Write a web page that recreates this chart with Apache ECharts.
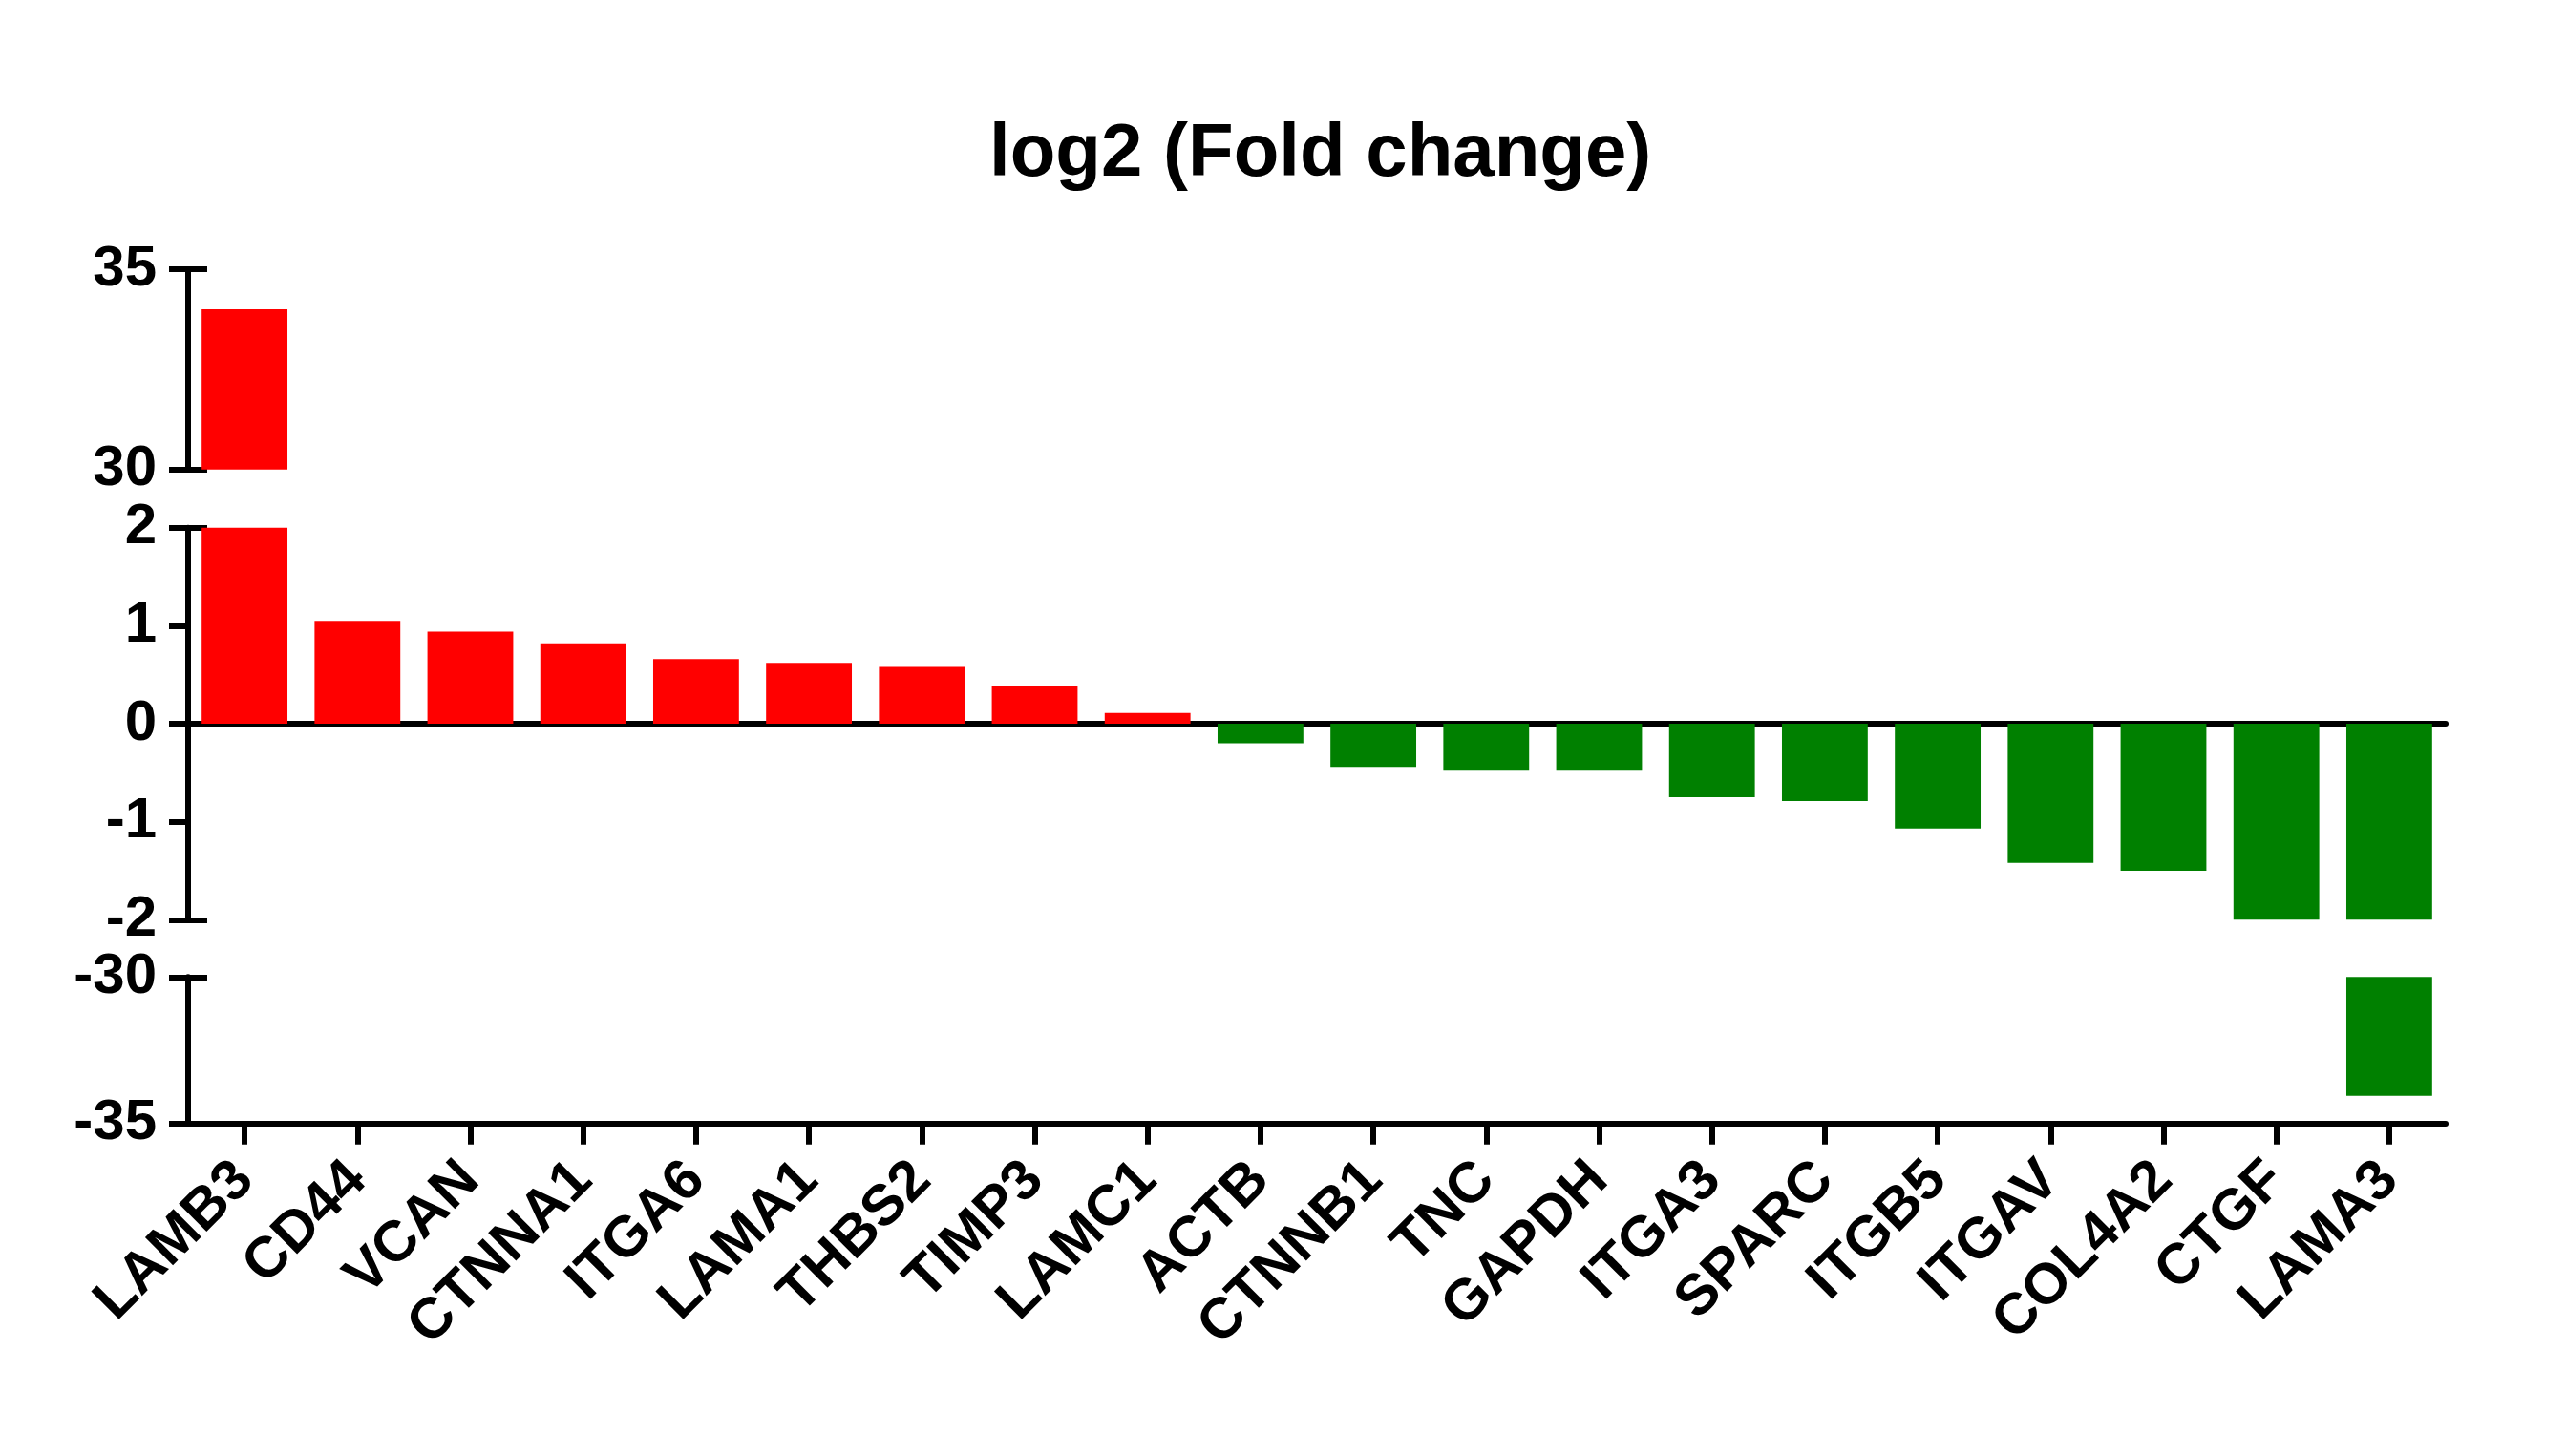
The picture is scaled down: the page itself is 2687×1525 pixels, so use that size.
<!DOCTYPE html>
<html>
<head>
<meta charset="utf-8">
<title>log2 (Fold change)</title>
<script src="https://cdn.jsdelivr.net/npm/echarts@6/dist/echarts.min.js"></script>
<style>
	body{margin:0;background:#fff;}
	#main{width:2687px;height:1525px;}
</style>
</head>
<body>
<div id="main"></div>
<script>
// genes and their log2 fold change
var genes = ['LAMB3','CD44','VCAN','CTNNA1','ITGA6','LAMA1','THBS2','TIMP3','LAMC1','ACTB',
	'CTNNB1','TNC','GAPDH','ITGA3','SPARC','ITGB5','ITGAV','COL4A2','CTGF','LAMA3'];
var foldChange = [34.0, 1.05, 0.94, 0.82, 0.66, 0.62, 0.58, 0.39, 0.11, -0.20,
	-0.44, -0.48, -0.48, -0.75, -0.79, -1.07, -1.42, -1.50, -2.0, -34.06];

// the three pieces of the broken y axis: [min, max, step]
var rangeTop = [30, 35, 5];
var rangeMid = [-2, 2, 1];
var rangeBottom = [-35, -30, 5];

var FONT = '"Liberation Sans", Arial, sans-serif';
var LINE_W = 6;

function barColor(p){
	return p.value > 0 ? '#FF0000' : '#008000';
}

//y axis with labels and outward ticks
function valueAxis(gridIndex,range){
	return {
		type:'value',
		gridIndex:gridIndex,
		position:'left',
		min:range[0],
		max:range[1],
		interval:range[2],
		axisLine:{show:true,onZero:false,lineStyle:{color:'#000',width:LINE_W}},
		axisTick:{show:true,length:20,lineStyle:{color:'#000',width:LINE_W}},
		axisLabel:{
			margin:33,
			color:'#000',
			fontFamily:FONT,
			fontWeight:'bold',
			fontSize:60
		},
		splitLine:{show:false}
	};
}

//second y axis only for the inward caps at the ends of each piece
function capAxis(gridIndex,range){
	return {
		type:'value',
		gridIndex:gridIndex,
		position:'left',
		offset:0,
		min:range[0],
		max:range[1],
		interval:range[1]-range[0],
		axisLine:{show:false},
		axisTick:{show:true,inside:true,length:20,lineStyle:{color:'#000',width:LINE_W}},
		axisLabel:{show:false},
		splitLine:{show:false}
	};
}

function barSeries(axisIndex){
	return {
		type:'bar',
		xAxisIndex:axisIndex,
		yAxisIndex:axisIndex*2,
		data:foldChange,
		barCategoryGap:'24%',
		clip:true,
		silent:true,
		itemStyle:{color:barColor}
	};
}

var chart = echarts.init(document.getElementById('main'));
chart.setOption({
	animation:false,
	backgroundColor:'#fff',
	title:{
		text:'log2 (Fold change)',
		left:1036,
		top:123,
		padding:0,
		textStyle:{
			color:'#000',
			fontFamily:FONT,
			fontWeight:'bold',
			fontSize:78,
			lineHeight:78
		}
	},
	grid:[
		{left:197,right:126,top:282,height:209.7},
		{left:197,right:126,top:552.7,height:410.6},
		{left:197,right:126,top:1023.3,height:153.4}
	],
	xAxis:[
		{type:'category',gridIndex:0,data:genes,show:false},
		{
			type:'category',
			gridIndex:1,
			data:genes,
			axisLine:{show:true,onZero:true,lineStyle:{color:'#000',width:LINE_W}},
			axisTick:{show:false},
			axisLabel:{show:false}
		},
		{
			type:'category',
			gridIndex:2,
			data:genes,
			position:'bottom',
			axisLine:{show:true,onZero:false,lineStyle:{color:'#000',width:LINE_W}},
			axisTick:{show:true,alignWithLabel:true,interval:0,length:22,lineStyle:{color:'#000',width:LINE_W}},
			axisLabel:{
				interval:0,
				rotate:45,
				margin:50,
				padding:[62,0,0,0],
				color:'#000',
				fontFamily:FONT,
				fontWeight:'bold',
				fontSize:60
			}
		}
	],
	yAxis:[
		valueAxis(0,rangeTop),
		capAxis(0,rangeTop),
		valueAxis(1,rangeMid),
		capAxis(1,rangeMid),
		valueAxis(2,rangeBottom),
		capAxis(2,rangeBottom)
	],
	series:[
		barSeries(0),
		barSeries(1),
		barSeries(2)
	]
});
</script>
</body>
</html>
